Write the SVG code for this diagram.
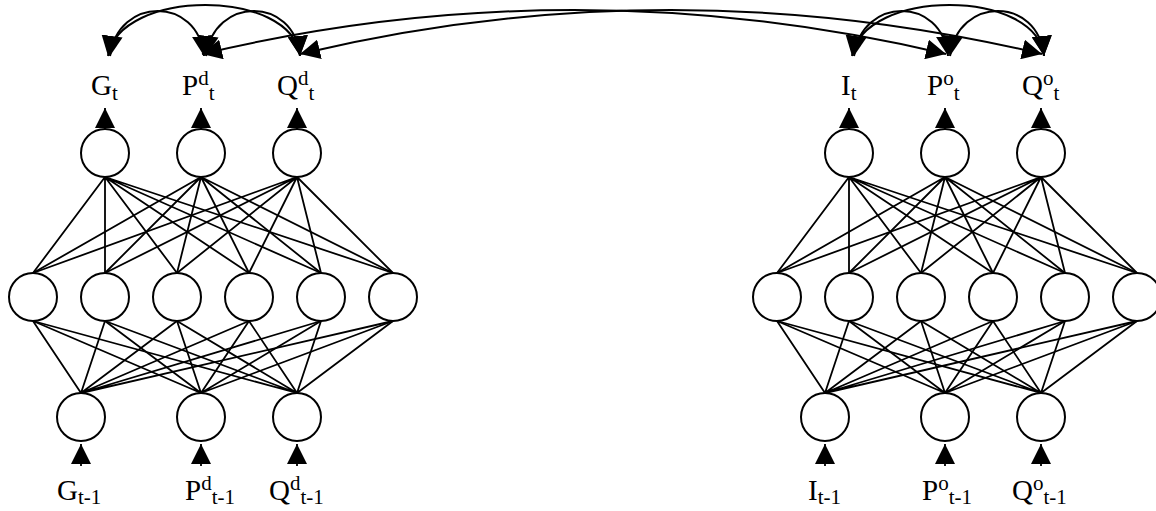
<svg xmlns="http://www.w3.org/2000/svg" width="1156" height="511" viewBox="0 0 1156 511">
  <defs>
    <marker id="ah" viewBox="0 0 20 20" refX="20" refY="10" markerUnits="userSpaceOnUse" markerWidth="20" markerHeight="20" orient="auto-start-reverse">
      <path d="M0,0 L20,10 L0,20 z" fill="#000"/>
    </marker>
    <style>
      .n { fill: #fff; stroke: #000; stroke-width: 2; }
      .w { stroke: #000; stroke-width: 1.8; fill: none; }
      .a { stroke: #000; stroke-width: 1.8; fill: none; marker-end: url(#ah); }
      .arc { stroke: #000; stroke-width: 2; fill: none; marker-start: url(#ah); marker-end: url(#ah); }
      .lbl { font-family: "Liberation Serif", "Times New Roman", serif; font-size: 29px; fill: #000; }
      .s { font-size: 21px; }
    </style>
  </defs>
  <rect width="1156" height="511" fill="#fff"/>

  <g id="connectors">
    <g class="w">
      <!-- left network: output to hidden -->
      <path d="M105,177 L33,273 M105,177 L105,273 M105,177 L177,273 M105,177 L249,273 M105,177 L321,273 M105,177 L393,273"/>
      <path d="M201,177 L33,273 M201,177 L105,273 M201,177 L177,273 M201,177 L249,273 M201,177 L321,273 M201,177 L393,273"/>
      <path d="M297,177 L33,273 M297,177 L105,273 M297,177 L177,273 M297,177 L249,273 M297,177 L321,273 M297,177 L393,273"/>
      <!-- hidden to input -->
      <path d="M81,393 L33,321 M81,393 L105,321 M81,393 L177,321 M81,393 L249,321 M81,393 L321,321 M81,393 L393,321"/>
      <path d="M201,393 L33,321 M201,393 L105,321 M201,393 L177,321 M201,393 L249,321 M201,393 L321,321 M201,393 L393,321"/>
      <path d="M297,393 L33,321 M297,393 L105,321 M297,393 L177,321 M297,393 L249,321 M297,393 L321,321 M297,393 L393,321"/>
      <!-- right network -->
      <path d="M849,177 L777,273 M849,177 L849,273 M849,177 L921,273 M849,177 L993,273 M849,177 L1065,273 M849,177 L1137,273"/>
      <path d="M945,177 L777,273 M945,177 L849,273 M945,177 L921,273 M945,177 L993,273 M945,177 L1065,273 M945,177 L1137,273"/>
      <path d="M1041,177 L777,273 M1041,177 L849,273 M1041,177 L921,273 M1041,177 L993,273 M1041,177 L1065,273 M1041,177 L1137,273"/>
      <path d="M825,393 L777,321 M825,393 L849,321 M825,393 L921,321 M825,393 L993,321 M825,393 L1065,321 M825,393 L1137,321"/>
      <path d="M945,393 L777,321 M945,393 L849,321 M945,393 L921,321 M945,393 L993,321 M945,393 L1065,321 M945,393 L1137,321"/>
      <path d="M1041,393 L777,321 M1041,393 L849,321 M1041,393 L921,321 M1041,393 L993,321 M1041,393 L1065,321 M1041,393 L1137,321"/>
    </g>
    <!-- output arrows -->
    <path class="a" d="M105,129 L105,108"/>
    <path class="a" d="M201,129 L201,108"/>
    <path class="a" d="M297,129 L297,108"/>
    <path class="a" d="M849,129 L849,108"/>
    <path class="a" d="M945,129 L945,108"/>
    <path class="a" d="M1041,129 L1041,108"/>
    <!-- input arrows -->
    <path class="a" d="M81,466 L81,444"/>
    <path class="a" d="M201,466 L201,444"/>
    <path class="a" d="M297,466 L297,444"/>
    <path class="a" d="M825,466 L825,444"/>
    <path class="a" d="M945,466 L945,444"/>
    <path class="a" d="M1041,466 L1041,444"/>
    <!-- coupling arcs, left -->
    <path class="arc" d="M110,56 C118,-4 198,-4 204,56"/>
    <path class="arc" d="M108,56 C120,-12 292,-12 300,56"/>
    <path class="arc" d="M206,56 C214,-4 294,-4 300,56"/>
    <!-- coupling arcs, right -->
    <path class="arc" d="M854,56 C862,-4 942,-4 948,56"/>
    <path class="arc" d="M852,56 C864,-12 1036,-12 1044,56"/>
    <path class="arc" d="M950,56 C958,-4 1038,-4 1044,56"/>
    <!-- long arcs between networks -->
    <path class="arc" d="M202,54 Q574,-34 946,54"/>
    <path class="arc" d="M300,54 Q670,-34 1042,54"/>
  </g>

  <!-- left network nodes -->
  <g id="G_t"><circle class="n" cx="105" cy="153" r="24"/><text class="lbl" x="91" y="95">G<tspan class="s" dy="5">t</tspan></text></g>
  <g id="Pd_t"><circle class="n" cx="201" cy="153" r="24"/><text class="lbl" x="182" y="95">P<tspan class="s" dy="-10">d</tspan><tspan class="s" dy="15">t</tspan></text></g>
  <g id="Qd_t"><circle class="n" cx="297" cy="153" r="24"/><text class="lbl" x="277" y="95">Q<tspan class="s" dy="-10">d</tspan><tspan class="s" dy="15">t</tspan></text></g>
  <g id="hL1"><circle class="n" cx="33" cy="297" r="24"/></g>
  <g id="hL2"><circle class="n" cx="105" cy="297" r="24"/></g>
  <g id="hL3"><circle class="n" cx="177" cy="297" r="24"/></g>
  <g id="hL4"><circle class="n" cx="249" cy="297" r="24"/></g>
  <g id="hL5"><circle class="n" cx="321" cy="297" r="24"/></g>
  <g id="hL6"><circle class="n" cx="393" cy="297" r="24"/></g>
  <g id="G_t-1"><circle class="n" cx="81" cy="417" r="24"/><text class="lbl" x="57" y="500">G<tspan class="s" dy="4">t-1</tspan></text></g>
  <g id="Pd_t-1"><circle class="n" cx="201" cy="417" r="24"/><text class="lbl" x="185" y="500">P<tspan class="s" dy="-10">d</tspan><tspan class="s" dy="14">t-1</tspan></text></g>
  <g id="Qd_t-1"><circle class="n" cx="297" cy="417" r="24"/><text class="lbl" x="269" y="500">Q<tspan class="s" dy="-10">d</tspan><tspan class="s" dy="14">t-1</tspan></text></g>

  <!-- right network nodes -->
  <g id="I_t"><circle class="n" cx="849" cy="153" r="24"/><text class="lbl" x="841" y="95">I<tspan class="s" dy="5">t</tspan></text></g>
  <g id="Po_t"><circle class="n" cx="945" cy="153" r="24"/><text class="lbl" x="927" y="95">P<tspan class="s" dy="-10">o</tspan><tspan class="s" dy="15">t</tspan></text></g>
  <g id="Qo_t"><circle class="n" cx="1041" cy="153" r="24"/><text class="lbl" x="1022" y="95">Q<tspan class="s" dy="-10">o</tspan><tspan class="s" dy="15">t</tspan></text></g>
  <g id="hR1"><circle class="n" cx="777" cy="297" r="24"/></g>
  <g id="hR2"><circle class="n" cx="849" cy="297" r="24"/></g>
  <g id="hR3"><circle class="n" cx="921" cy="297" r="24"/></g>
  <g id="hR4"><circle class="n" cx="993" cy="297" r="24"/></g>
  <g id="hR5"><circle class="n" cx="1065" cy="297" r="24"/></g>
  <g id="hR6"><circle class="n" cx="1137" cy="297" r="24"/></g>
  <g id="I_t-1"><circle class="n" cx="825" cy="417" r="24"/><text class="lbl" x="808" y="500">I<tspan class="s" dy="4">t-1</tspan></text></g>
  <g id="Po_t-1"><circle class="n" cx="945" cy="417" r="24"/><text class="lbl" x="922" y="500">P<tspan class="s" dy="-10">o</tspan><tspan class="s" dy="14">t-1</tspan></text></g>
  <g id="Qo_t-1"><circle class="n" cx="1041" cy="417" r="24"/><text class="lbl" x="1012" y="500">Q<tspan class="s" dy="-10">o</tspan><tspan class="s" dy="14">t-1</tspan></text></g>
</svg>
